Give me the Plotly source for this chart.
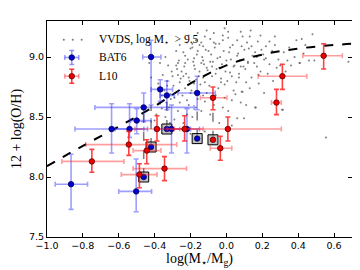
import plotly.graph_objects as go

# ---------------- data ----------------
vvds_x = [-0.39,-0.37,-0.36,-0.38,-0.355,-0.40,-0.37,
          -0.34,-0.32,-0.31,-0.345,-0.33,-0.305,-0.325,-0.34,-0.315,-0.335,
          -0.29,-0.27,-0.26,-0.285,-0.295,-0.255,-0.275,-0.265,-0.28,-0.26,-0.29,-0.27,
          -0.24,-0.22,-0.21,-0.245,-0.23,-0.205,-0.225,-0.235,-0.215,-0.24,-0.22,-0.21,-0.2,-0.23,
          -0.19,-0.17,-0.16,-0.195,-0.18,-0.155,-0.175,-0.185,-0.165,-0.19,-0.17,-0.16,-0.15,-0.18,
          -0.14,-0.12,-0.11,-0.145,-0.13,-0.105,-0.125,-0.135,-0.115,-0.14,-0.12,-0.11,-0.13,
          -0.09,-0.07,-0.06,-0.095,-0.08,-0.055,-0.075,-0.085,-0.065,-0.09,-0.07,-0.06,
          -0.04,-0.02,-0.01,-0.045,-0.03,-0.005,-0.025,-0.035,-0.015,-0.04,-0.02,-0.01,
          0.01,0.03,0.04,0.005,0.02,0.045,0.025,0.015,0.035,0.01,
          0.06,0.08,0.09,0.055,0.07,0.095,0.075,0.065,0.085,0.06,0.08,
          0.11,0.13,0.14,0.105,0.12,0.145,0.125,0.115,0.135,
          0.16,0.18,0.19,0.155,0.17,0.195,0.175,
          0.21,0.23,0.24,0.205,0.22,
          0.26,0.28,0.29,0.255,0.27,
          0.31,0.33,0.34,0.32,
          0.36,0.38,0.39,
          0.41,0.43,0.44,
          0.46,0.48,
          0.555,0.68,-0.43,-0.42,-0.12,0.03,-0.20,0.098,0.164,0.315,0.085,0.49,0.407,
          -0.33,-0.31,-0.28,-0.26,-0.25,-0.23,-0.21,-0.19,-0.18,-0.16,-0.14,-0.13,-0.12,-0.10,-0.08,
          -0.07,-0.05,-0.03,-0.02,0.00,0.02,0.04,0.06,0.07,0.09,0.12,0.14,0.17,0.19,0.22,
          -0.38,-0.36,-0.30,-0.27,-0.24,-0.22,-0.20,-0.17,-0.15,-0.13,-0.11,-0.09,-0.06,-0.04,-0.01,
          0.01,0.03,0.05,0.08,0.10,0.11,0.13,0.16,0.18,0.21,0.24,0.27,0.30,0.35,0.42]
vvds_y = [8.52,8.61,8.68,8.78,8.85,8.47,8.95,
          8.50,8.58,8.65,8.72,8.80,8.88,8.93,9.00,8.45,8.62,
          8.48,8.55,8.62,8.70,8.76,8.82,8.90,8.97,9.05,9.10,8.66,8.85,
          8.45,8.52,8.60,8.68,8.74,8.80,8.86,8.92,8.98,9.04,9.12,9.18,8.70,8.95,
          8.50,8.58,8.65,8.72,8.78,8.84,8.90,8.96,9.02,9.08,9.14,9.20,8.88,8.99,
          8.55,8.63,8.70,8.77,8.83,8.89,8.94,9.00,9.06,9.12,9.17,9.22,8.97,
          8.52,8.60,8.68,8.76,8.84,8.90,8.96,9.02,9.08,9.15,9.20,8.86,
          8.45,8.58,8.66,8.74,8.82,8.88,8.94,9.00,9.05,9.11,9.18,9.24,
          8.55,8.64,8.72,8.80,8.87,8.93,8.98,9.04,9.10,9.16,
          8.49,8.62,8.71,8.79,8.86,8.92,8.97,9.03,9.09,9.14,9.21,
          8.60,8.74,8.83,8.90,8.96,9.01,9.07,9.12,9.22,
          8.58,8.78,8.88,8.95,9.00,9.06,9.13,
          8.70,8.86,8.94,9.02,9.09,
          8.80,8.91,8.98,9.05,9.17,
          8.56,8.88,8.97,9.04,
          8.93,9.00,9.14,
          8.95,9.03,9.10,
          8.97,9.19,
          8.33,8.96,8.95,8.83,8.38,8.43,8.36,8.49,8.58,8.56,8.71,8.97,8.95,
          8.76,8.69,8.93,8.79,8.88,9.01,8.83,9.11,8.93,9.05,8.95,9.09,8.79,9.05,8.92,
          9.12,8.99,8.79,9.14,8.97,9.08,8.92,9.01,8.83,9.17,8.95,9.09,8.92,9.18,8.99,
          8.74,8.57,8.84,8.95,8.84,8.64,9.07,8.81,9.10,8.68,8.91,8.96,9.11,8.91,8.77,
          9.21,8.84,8.69,8.92,9.06,8.79,9.17,9.04,8.85,8.98,9.13,9.10,8.93,9.08,9.15]

curve_x = [-1.0, -0.8, -0.6, -0.4, -0.2, 0.0, 0.2, 0.4, 0.6, 0.7]
curve_y = [8.09, 8.26, 8.42, 8.59, 8.78, 8.93, 9.02, 9.07, 9.10, 9.11]

bat6_x   = [-0.866, -0.503, -0.64, -0.54, -0.461, -0.50, -0.369, -0.332, -0.163, -0.306, -0.22, -0.42]
bat6_y   = [7.94, 7.88, 8.40, 8.40, 8.58, 8.47, 8.73, 8.68, 8.70, 8.40, 8.40, 9.00]
bat6_xlo = [-0.954, -0.60, -0.844, -0.62, -0.733, -0.535, -0.42, -0.37, -0.27, -0.40, -0.30, -0.466]
bat6_xhi = [-0.774, -0.417, -0.44, -0.46, -0.18, -0.42, -0.30, -0.29, -0.062, -0.20, -0.15, -0.365]
bat6_ylo = [7.73, 7.71, 8.20, 8.33, 8.46, 8.36, 8.63, 8.56, 8.56, 8.20, 8.20, 8.60]
bat6_yhi = [8.19, 8.15, 8.61, 8.61, 8.70, 8.57, 8.81, 8.80, 8.84, 8.60, 8.57, 9.14]

bat6b_x   = [-0.461, -0.42, -0.332, -0.163]
bat6b_y   = [8.00, 8.25, 8.40, 8.32]
bat6b_yhi = [8.58, 8.60, 8.68, 8.56]

l10_x   = [-0.75, -0.544, -0.387, -0.233, 0.008, -0.444, -0.345, -0.485, -0.034, 0.279, 0.312, 0.542, -0.075]
l10_y   = [8.13, 8.27, 8.40, 8.40, 8.40, 8.22, 8.07, 8.02, 8.24, 8.62, 8.84, 9.01, 8.66]
l10_xlo = [-0.917, -0.783, -0.51, -0.33, -0.29, -0.52, -0.52, -0.586, -0.09, 0.251, 0.177, 0.426, -0.145]
l10_xhi = [-0.571, -0.277, -0.26, -0.13, 0.306, -0.365, -0.222, -0.387, 0.03, 0.306, 0.448, 0.646, 0.003]
l10_ylo = [8.04, 8.18, 8.30, 8.30, 8.30, 8.11, 7.97, 7.91, 8.14, 8.52, 8.73, 8.90, 8.56]
l10_yhi = [8.23, 8.38, 8.51, 8.51, 8.50, 8.31, 8.17, 8.11, 8.34, 8.73, 8.94, 9.11, 8.75]

l10b_x   = [-0.075]
l10b_y   = [8.31]
l10b_yhi = [8.55]

x_ticks = [-1.0, -0.8, -0.6, -0.4, -0.2, 0.0, 0.2, 0.4, 0.6]
y_ticks = [7.5, 8.0, 8.5, 9.0]

legend_labels = ["VVDS, log M<sub>⋆</sub>  > 9.5", "BAT6", "L10"]

# ---------------- figure ----------------
# the page body has an 8px default margin; size the figure so it ends at the window edge
OFF = 8
W, H = 360 - OFF, 270 - OFF
ML, MR, MT, MB = 45 - OFF, 7, 21 - OFF, 30
PW, PH = W - ML - MR, H - MT - MB

def plus(v, hi):
    return [h - a for a, h in zip(v, hi)]

def minus(v, lo):
    return [a - l for a, l in zip(v, lo)]

fig = go.Figure()

fig.add_trace(go.Scatter(x=vvds_x, y=vvds_y, mode="markers",
                         marker=dict(size=2, color="rgba(95,95,95,0.8)"),
                         showlegend=False, hoverinfo="skip"))

fig.add_trace(go.Scatter(x=curve_x, y=curve_y, mode="lines",
                         line=dict(color="black", width=2, dash="dash", shape="spline"),
                         showlegend=False, hoverinfo="skip"))

# dashed gray ranges of boxed points
seg_x, seg_y = [], []
for xs, ys, yh in ((bat6b_x, bat6b_y, bat6b_yhi), (l10b_x, l10b_y, l10b_yhi)):
    for a, b, c in zip(xs, ys, yh):
        seg_x += [a, a, None]
        seg_y += [b, c, None]
fig.add_trace(go.Scatter(x=seg_x, y=seg_y, mode="lines",
                         line=dict(color="rgba(110,110,110,0.9)", width=1.5, dash="dash"),
                         showlegend=False, hoverinfo="skip"))

# boxes
fig.add_trace(go.Scatter(x=bat6b_x + l10b_x, y=bat6b_y + l10b_y, mode="markers",
                         marker=dict(symbol="square", size=10, color="rgba(170,170,170,0.7)",
                                     line=dict(color="black", width=1)),
                         showlegend=False, hoverinfo="skip"))

blue_err = "rgba(40,40,255,0.45)"
red_errx = "rgba(255,40,40,0.45)"
red_erry = "rgba(255,20,20,0.8)"
fig.add_trace(go.Scatter(
    x=bat6_x, y=bat6_y, mode="markers",
    marker=dict(size=5.5, color="#0000cc", line=dict(color="#000055", width=0.8)),
    error_x=dict(type="data", symmetric=False, array=plus(bat6_x, bat6_xhi),
                 arrayminus=minus(bat6_x, bat6_xlo), color=blue_err, thickness=1.6, width=2.5),
    error_y=dict(type="data", symmetric=False, array=plus(bat6_y, bat6_yhi),
                 arrayminus=minus(bat6_y, bat6_ylo), color=blue_err, thickness=1.6, width=2.5),
    showlegend=False))
fig.add_trace(go.Scatter(x=bat6b_x, y=bat6b_y, mode="markers",
                         marker=dict(size=5.5, color="#0000cc", line=dict(color="#000055", width=0.8)),
                         showlegend=False))

fig.add_trace(go.Scatter(
    x=l10_x, y=l10_y, mode="markers",
    marker=dict(size=5.5, color="#ee0000", line=dict(color="#550000", width=0.8)),
    error_x=dict(type="data", symmetric=False, array=plus(l10_x, l10_xhi),
                 arrayminus=minus(l10_x, l10_xlo), color=red_errx, thickness=1.6, width=2.5),
    error_y=dict(type="data", symmetric=False, array=plus(l10_y, l10_yhi),
                 arrayminus=minus(l10_y, l10_ylo), color=red_erry, thickness=1.6, width=2.5),
    showlegend=False))
fig.add_trace(go.Scatter(x=l10b_x, y=l10b_y, mode="markers",
                         marker=dict(size=5.5, color="#ee0000", line=dict(color="#550000", width=0.8)),
                         showlegend=False))

# ---------------- manual legend (layout shapes / text) ----------------
# positions given in window pixels
def px_x(px):
    return (px - OFF - ML) / PW

def px_y(py):
    return (H - MB - (py - OFF)) / PH

shapes = []
def pline(cx, cy, x0, y0, x1, y1, color, w=1.6):
    shapes.append(dict(type="line", xref="paper", yref="paper",
                       xsizemode="pixel", ysizemode="pixel",
                       xanchor=px_x(cx), yanchor=px_y(cy),
                       x0=x0, x1=x1, y0=y0, y1=y1,
                       line=dict(color=color, width=w)))

def pdot(cx, cy, r, fill, edge, w=0.8):
    shapes.append(dict(type="circle", xref="paper", yref="paper",
                       xsizemode="pixel", ysizemode="pixel",
                       xanchor=px_x(cx), yanchor=px_y(cy),
                       x0=-r, x1=r, y0=-r, y1=r,
                       fillcolor=fill, line=dict(color=edge, width=w)))

rows = [40, 58, 77]
for dx in (62, 71, 80):
    pdot(dx, rows[0], 1.0, "rgba(95,95,95,0.85)", "rgba(95,95,95,0)", 0)
for cy, ec, ecy, fill, edge in ((rows[1], blue_err, blue_err, "#0000cc", "#000055"),
                                 (rows[2], red_errx, red_erry, "#ee0000", "#550000")):
    pline(70, cy, -7, 0, 7, 0, ec)
    pline(70, cy, -7, -2.5, -7, 2.5, ec)
    pline(70, cy, 7, -2.5, 7, 2.5, ec)
    pline(70, cy, 0, -7, 0, 7, ecy)
    pline(70, cy, -2.5, -7, 2.5, -7, ecy)
    pline(70, cy, -2.5, 7, 2.5, 7, ecy)
    pdot(70, cy, 2.75, fill, edge)

annotations = []
for lbl, cy in zip(legend_labels, rows):
    annotations.append(dict(x=px_x(95), y=px_y(cy), xref="paper", yref="paper",
                            text=lbl, showarrow=False, xanchor="left", yanchor="middle",
                            font=dict(family="Liberation Serif, serif", size=11.5, color="black")))

axis_common = dict(showline=True, linecolor="black", linewidth=1, mirror="allticks",
                   ticks="inside", ticklen=4, tickcolor="black", tickwidth=1,
                   showgrid=False, zeroline=False,
                   tickfont=dict(family="DejaVu Sans, sans-serif", size=9.5, color="black"))

fig.update_layout(
    width=W, height=H,
    margin=dict(l=ML, r=MR, t=MT, b=MB, pad=0),
    paper_bgcolor="white", plot_bgcolor="white",
    showlegend=False,
    shapes=shapes, annotations=annotations,
    xaxis=dict(range=[-1.0, 0.7], tickvals=x_ticks,
               ticktext=[f"{v:.1f}".replace("-", "−") for v in x_ticks],
               title=dict(text="log(M<sub>⋆</sub>/M<sub>g</sub>)", standoff=2,
                          font=dict(family="Liberation Serif, serif", size=14, color="black")),
               **axis_common),
    yaxis=dict(range=[7.5, 9.3], tickvals=y_ticks,
               ticktext=[f"{v:.1f}" for v in y_ticks],
               title=dict(text="12 + log(O/H)", standoff=4,
                          font=dict(family="Liberation Serif, serif", size=14, color="black")),
               **axis_common),
)

fig.write_html("out.html")
